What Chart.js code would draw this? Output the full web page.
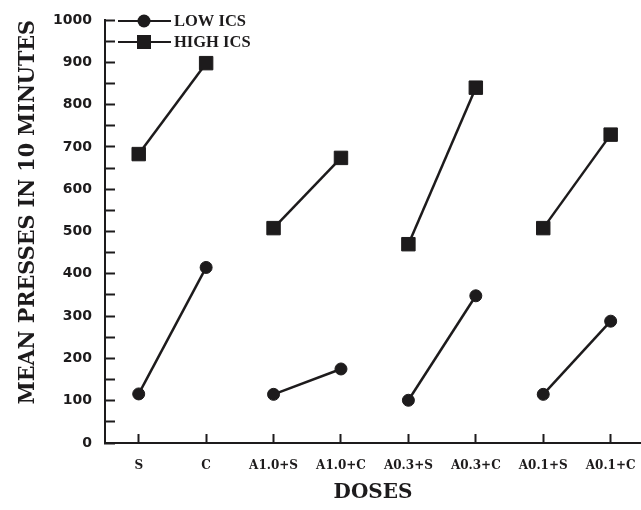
<!DOCTYPE html>
<html>
<head>
<meta charset="utf-8">
<script src="https://cdn.jsdelivr.net/npm/chart.js"></script>
<style>
html,body{margin:0;padding:0;background:#fff;overflow:hidden;}
canvas{display:block;}
</style>
</head>
<body>
<canvas id="c" width="641" height="510"></canvas>
<script>
const categories = ['S', 'C', 'A1.0+S', 'A1.0+C', 'A0.3+S', 'A0.3+C', 'A0.1+S', 'A0.1+C'];
const lowICS = [116, 415, 115, 175, 101, 348, 115, 288];
const highICS = [683, 898, 508, 674, 470, 840, 508, 729];
const seriesNames = ['LOW ICS', 'HIGH ICS'];
const yTicks = [0, 100, 200, 300, 400, 500, 600, 700, 800, 900, 1000];

const INK = '#1d1b1c';

function pts(arr) { return arr.map((v, i) => ({ x: i, y: v })); }
const pairSegment = { borderColor: ctx => (ctx.p0DataIndex % 2 === 1 ? 'rgba(0,0,0,0)' : INK) };

const legendPlugin = {
  id: 'lineLegend',
  afterDraw(chart) {
    const { ctx, chartArea } = chart;
    const left = chartArea.left;
    chart.data.datasets.forEach((ds, i) => {
      const y = chartArea.top + 1 + i * 21;
      ctx.save();
      ctx.strokeStyle = INK;
      ctx.lineWidth = 2;
      ctx.beginPath();
      ctx.moveTo(left + 13, y);
      ctx.lineTo(left + 66, y);
      ctx.stroke();
      ctx.fillStyle = INK;
      const mx = left + 39;
      if (ds.pointStyle === 'rect') {
        ctx.fillRect(mx - 7, y - 7, 14, 14);
      } else {
        ctx.beginPath();
        ctx.arc(mx, y, 6.5, 0, Math.PI * 2);
        ctx.fill();
      }
      ctx.font = 'bold 16.5px "Liberation Serif"';
      ctx.textAlign = 'left';
      ctx.textBaseline = 'middle';
      ctx.fillText(ds.label, left + 69, y + 1);
      ctx.restore();
    });
  }
};

new Chart(document.getElementById('c'), {
  type: 'line',
  data: {
    datasets: [
      {
        label: seriesNames[0],
        data: pts(lowICS),
        borderColor: INK,
        backgroundColor: INK,
        borderWidth: 2.5,
        pointStyle: 'circle',
        pointRadius: 6,
        pointBorderWidth: 1,
        pointBackgroundColor: INK,
        pointBorderColor: INK,
        segment: pairSegment,
        fill: false,
        clip: false
      },
      {
        label: seriesNames[1],
        data: pts(highICS),
        borderColor: INK,
        backgroundColor: INK,
        borderWidth: 2.5,
        pointStyle: 'rect',
        pointRadius: 9.5,
        pointBorderWidth: 1,
        pointBackgroundColor: INK,
        pointBorderColor: INK,
        segment: pairSegment,
        fill: false,
        clip: false
      }
    ]
  },
  options: {
    responsive: false,
    animation: false,
    devicePixelRatio: 1,
    layout: { autoPadding: false, padding: { top: 20, right: 0, bottom: 0, left: 0 } },
    plugins: { legend: { display: false }, tooltip: { enabled: false } },
    scales: {
      x: {
        type: 'linear',
        min: -0.5,
        max: 7.45,
        afterBuildTicks: axis => { axis.ticks = categories.map((_, i) => ({ value: i })); },
        afterFit: scale => { scale.height = 67; scale.paddingLeft = 0; scale.paddingRight = 0; },
        border: { display: true, color: INK, width: 2 },
        grid: { drawOnChartArea: false, drawTicks: true, tickLength: -9, tickWidth: 2, color: INK },
        ticks: {
          autoSkip: false,
          maxRotation: 0,
          padding: 25,
          color: INK,
          font: { family: '"DejaVu Serif"', size: 12, weight: 'bold' },
          callback: v => categories[v]
        },
        title: {
          display: true,
          text: 'DOSES',
          color: INK,
          font: { family: '"DejaVu Serif"', size: 20, weight: 'bold', lineHeight: 1.2 },
          padding: { top: 0, bottom: 5 }
        }
      },
      y: {
        min: 0,
        max: 1000,
        afterBuildTicks: axis => {
          const t = [];
          for (let i = 0; i < yTicks.length; i++) {
            t.push({ value: yTicks[i] });
            if (i < yTicks.length - 1) t.push({ value: (yTicks[i] + yTicks[i + 1]) / 2 });
          }
          axis.ticks = t;
        },
        afterFit: scale => { scale.width = 105; scale.paddingTop = 0; scale.paddingBottom = 0; },
        border: { display: true, color: INK, width: 2 },
        grid: { drawOnChartArea: false, drawTicks: true, tickLength: -10, tickWidth: 2, color: INK },
        ticks: {
          padding: 23,
          color: INK,
          font: { family: '"DejaVu Sans"', size: 14, weight: 'bold' },
          callback: v => (yTicks.includes(v) ? String(v) : '')
        },
        title: {
          display: true,
          text: 'MEAN PRESSES IN 10 MINUTES',
          align: 'end',
          color: INK,
          font: { family: '"DejaVu Serif Condensed", "Liberation Serif"', size: 23, weight: 'bold', lineHeight: 1.2 },
          padding: { top: 14, bottom: 0 }
        }
      }
    }
  },
  plugins: [legendPlugin]
});
</script>
</body>
</html>
